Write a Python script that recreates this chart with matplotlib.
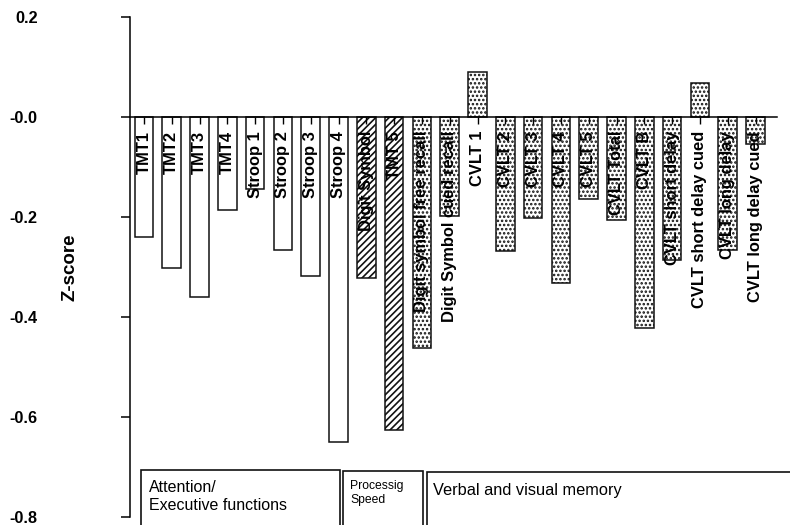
import matplotlib
matplotlib.use('Agg')
import matplotlib.pyplot as plt
from matplotlib.patches import Rectangle

plt.rcParams['font.family'] = ['Liberation Sans', 'DejaVu Sans']
plt.rcParams['hatch.linewidth'] = 1.2

# test names and mean z-scores
tests = ['TMT1', 'TMT2', 'TMT3', 'TMT4', 'Stroop 1', 'Stroop 2', 'Stroop 3', 'Stroop 4',
         'Digit Symbol', 'TMT 5', 'Digit symbol free recall', 'Digit Symbol cued recall',
         'CVLT 1', 'CVLT 2', 'CVLT 3', 'CVLT 4', 'CVLT 5', 'CVLT Total', 'CVLT B',
         'CVLT short delay', 'CVLT short delay cued', 'CVLT long delay', 'CVLT long delay cued']
zscores = [-0.239, -0.301, -0.359, -0.185, -0.143, -0.266, -0.318, -0.650,
           -0.322, -0.626, -0.462, -0.197,
           0.090, -0.267, -0.201, -0.331, -0.163, -0.206, -0.421,
           -0.285, 0.068, -0.266, -0.054]
# domain of each test: 0 attention/executive, 1 processing speed, 2 memory
domain = [0] * 8 + [1] * 2 + [2] * 13

yticks = [0.2, 0.0, -0.2, -0.4, -0.6, -0.8]
yticklabels = ['0.2', '-0.0', '-0.2', '-0.4', '-0.6', '-0.8']

domain_names = ['Attention/\nExecutive functions', 'Processig\nSpeed', 'Verbal and visual memory']


def main():
    fig = plt.figure(figsize=(7.9, 5.25), dpi=100)
    ax = fig.add_axes([130 / 790, 1 - 517 / 525, 647 / 790, 500 / 525])

    hatches = ['', '/////', '....']
    xs = list(range(len(tests)))
    for x, z, d in zip(xs, zscores, domain):
        ax.bar(x, z, width=0.67, color='white', edgecolor='#111111',
               linewidth=1.1, hatch=hatches[d])

    ax.set_xlim(-0.5, len(tests) - 0.23)
    ax.set_ylim(-0.8, 0.2)

    for s in ['top', 'right']:
        ax.spines[s].set_visible(False)
    ax.spines['bottom'].set_position(('data', 0))
    ax.spines['bottom'].set_linewidth(1.1)
    ax.spines['left'].set_linewidth(1.1)

    ax.set_xticks(xs)
    ax.set_xticklabels(tests, rotation=90, fontweight='bold', fontsize=11.9)
    ax.tick_params(axis='x', direction='out', length=5, width=1.0, pad=5)

    ax.set_yticks(yticks)
    ax.set_yticklabels(yticklabels, fontweight='bold', fontsize=11.7)
    ax.tick_params(axis='y', direction='out', length=6.5, width=1.1, pad=60)

    ax.text(-0.093, 0.5, 'Z-score', transform=ax.transAxes, rotation=90,
            ha='center', va='center', fontweight='bold', fontsize=13.5)

    # domain boxes along the bottom edge (they run off the figure)
    boxes = [(141, 340, 470), (343, 423, 471), (427, 820, 472)]
    for x0, x1, top in boxes:
        fig.add_artist(Rectangle((x0 / 790, -0.05), (x1 - x0) / 790, 1 - top / 525 + 0.05,
                                 transform=fig.transFigure, facecolor='none',
                                 edgecolor='#111111', linewidth=1.2))

    fig.text(149 / 790, 1 - 497 / 525, domain_names[0], fontsize=11.5,
             ha='left', va='center', linespacing=1.25)
    fig.text(350 / 790, 1 - 493 / 525, domain_names[1], fontsize=8.7,
             ha='left', va='center', linespacing=1.3)
    fig.text(433 / 790, 1 - 490 / 525, domain_names[2], fontsize=11.8,
             ha='left', va='center')

    fig.savefig('out.png', dpi=100)


if __name__ == '__main__':
    main()
